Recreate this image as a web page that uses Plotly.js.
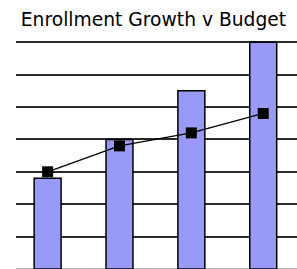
<!DOCTYPE html>
<html>
<head>
<meta charset="utf-8">
<script src="https://cdn.plot.ly/plotly-3.0.1.min.js"></script>
<style>
  html, body { margin: 0; padding: 0; background: #ffffff; }
  #chart { width: 297px; height: 269px; }
</style>
</head>
<body>
<div id="chart"></div>
<script>
// Data (units = gridline steps)
const periods = [0, 1, 2, 3];
const periodLabels = ["Year 1", "Year 2", "Year 3", "Year 4"];
const enrollment = [2.8, 4.0, 5.5, 7.0];
const budget = [3.0, 3.8, 4.2, 4.8];

const traces = [
  {
    type: "bar",
    name: "Enrollment",
    x: periods,
    y: enrollment,
    width: 0.375,
    marker: { color: "#9999f8", line: { color: "#000000", width: 1.5 } },
    hoverinfo: "skip"
  },
  {
    type: "scatter",
    mode: "lines+markers",
    name: "Budget",
    x: periods,
    y: budget,
    line: { color: "#000000", width: 1.3 },
    marker: { symbol: "square", size: 11, color: "#000000" },
    hoverinfo: "skip"
  }
];

const layout = {
  width: 297,
  height: 269,
  margin: { l: 16, r: 0, t: 26, b: 0, pad: 0 },
  paper_bgcolor: "#ffffff",
  plot_bgcolor: "#ffffff",
  showlegend: false,
  title: {
    text: "Enrollment Growth v Budget",
    font: { family: "DejaVu Sans", size: 18.7, color: "#000000" },
    x: 153.5 / 297,
    xref: "container",
    xanchor: "center",
    y: 1 - 19 / 269,
    yref: "container",
    yanchor: "middle"
  },
  xaxis: {
    range: [-0.44, 3.47],
    showgrid: false,
    zeroline: false,
    showticklabels: false,
    ticks: "",
    showline: false
  },
  yaxis: {
    range: [0, 7.5],
    dtick: 1,
    showgrid: true,
    gridcolor: "#2a2a2a",
    gridwidth: 2,
    zeroline: true,
    zerolinecolor: "#bbbbbb",
    zerolinewidth: 2,
    showticklabels: false,
    ticks: "",
    showline: false
  }
};

Plotly.newPlot("chart", traces, layout, { staticPlot: true, displayModeBar: false });
</script>
</body>
</html>
